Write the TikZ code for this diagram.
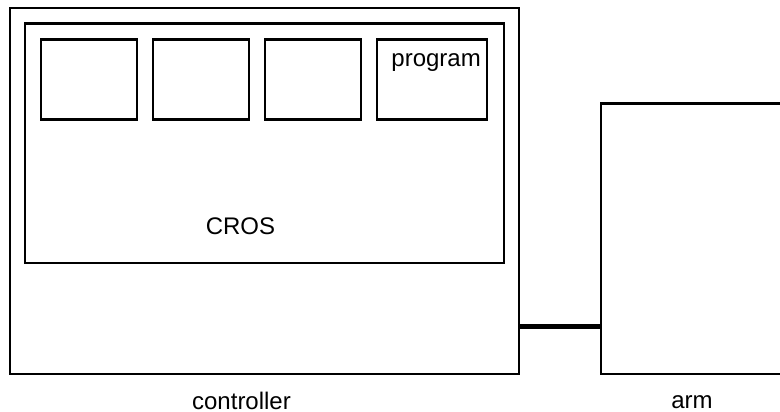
\documentclass[tikz,border=0pt]{standalone}
\usepackage{fontspec}
\setmainfont{Liberation Sans}
\usepackage{tikz}
\usetikzlibrary{positioning}

\begin{document}
\begin{tikzpicture}[x=1pt, y=-1pt,
    khung/.style={draw, line width=2.8pt, inner sep=0pt, outer sep=0pt},
    nhan/.style={inner sep=0pt, font=\fontsize{24}{28}\selectfont}]
    \useasboundingbox (0,0) rectangle (780,412);

    % Vẽ bộ điều khiển
    \node[khung, minimum width=509pt, minimum height=366pt] (ctrl) at (264.5,191) {};
    \node[khung, minimum width=479pt, minimum height=239.5pt] (cros) at (264.5,143.25) {};

    % Các ô bên trong
    \node[khung, minimum width=96pt, minimum height=80pt] (o1) at (89,79.5) {};
    \node[khung, minimum width=96pt, minimum height=80pt] (o2) at (201,79.5) {};
    \node[khung, minimum width=96pt, minimum height=80pt] (o3) at (313,79.5) {};
    \node[khung, minimum width=110pt, minimum height=80pt] (prog) at (432,79.5) {};

    % Cánh tay
    \node[khung, minimum width=200pt, minimum height=270.5pt] (arm) at (701,238.75) {};

    % Dây nối
    \coordinate (noi) at (560,326.5);
    \draw[line width=5pt] (ctrl.east |- noi) -- (arm.west |- noi);

    % Nhãn
    \node[nhan, anchor=base east] (tprog) at (481,67) {program};
    \node[nhan, anchor=base] (tcros) at (240.5,234) {CROS};
    \node[nhan, anchor=base] (tctrl) at (241.5,409) {controller};
    \node[nhan, anchor=base] (tarm) at (692,408) {arm};
\end{tikzpicture}
\end{document}
